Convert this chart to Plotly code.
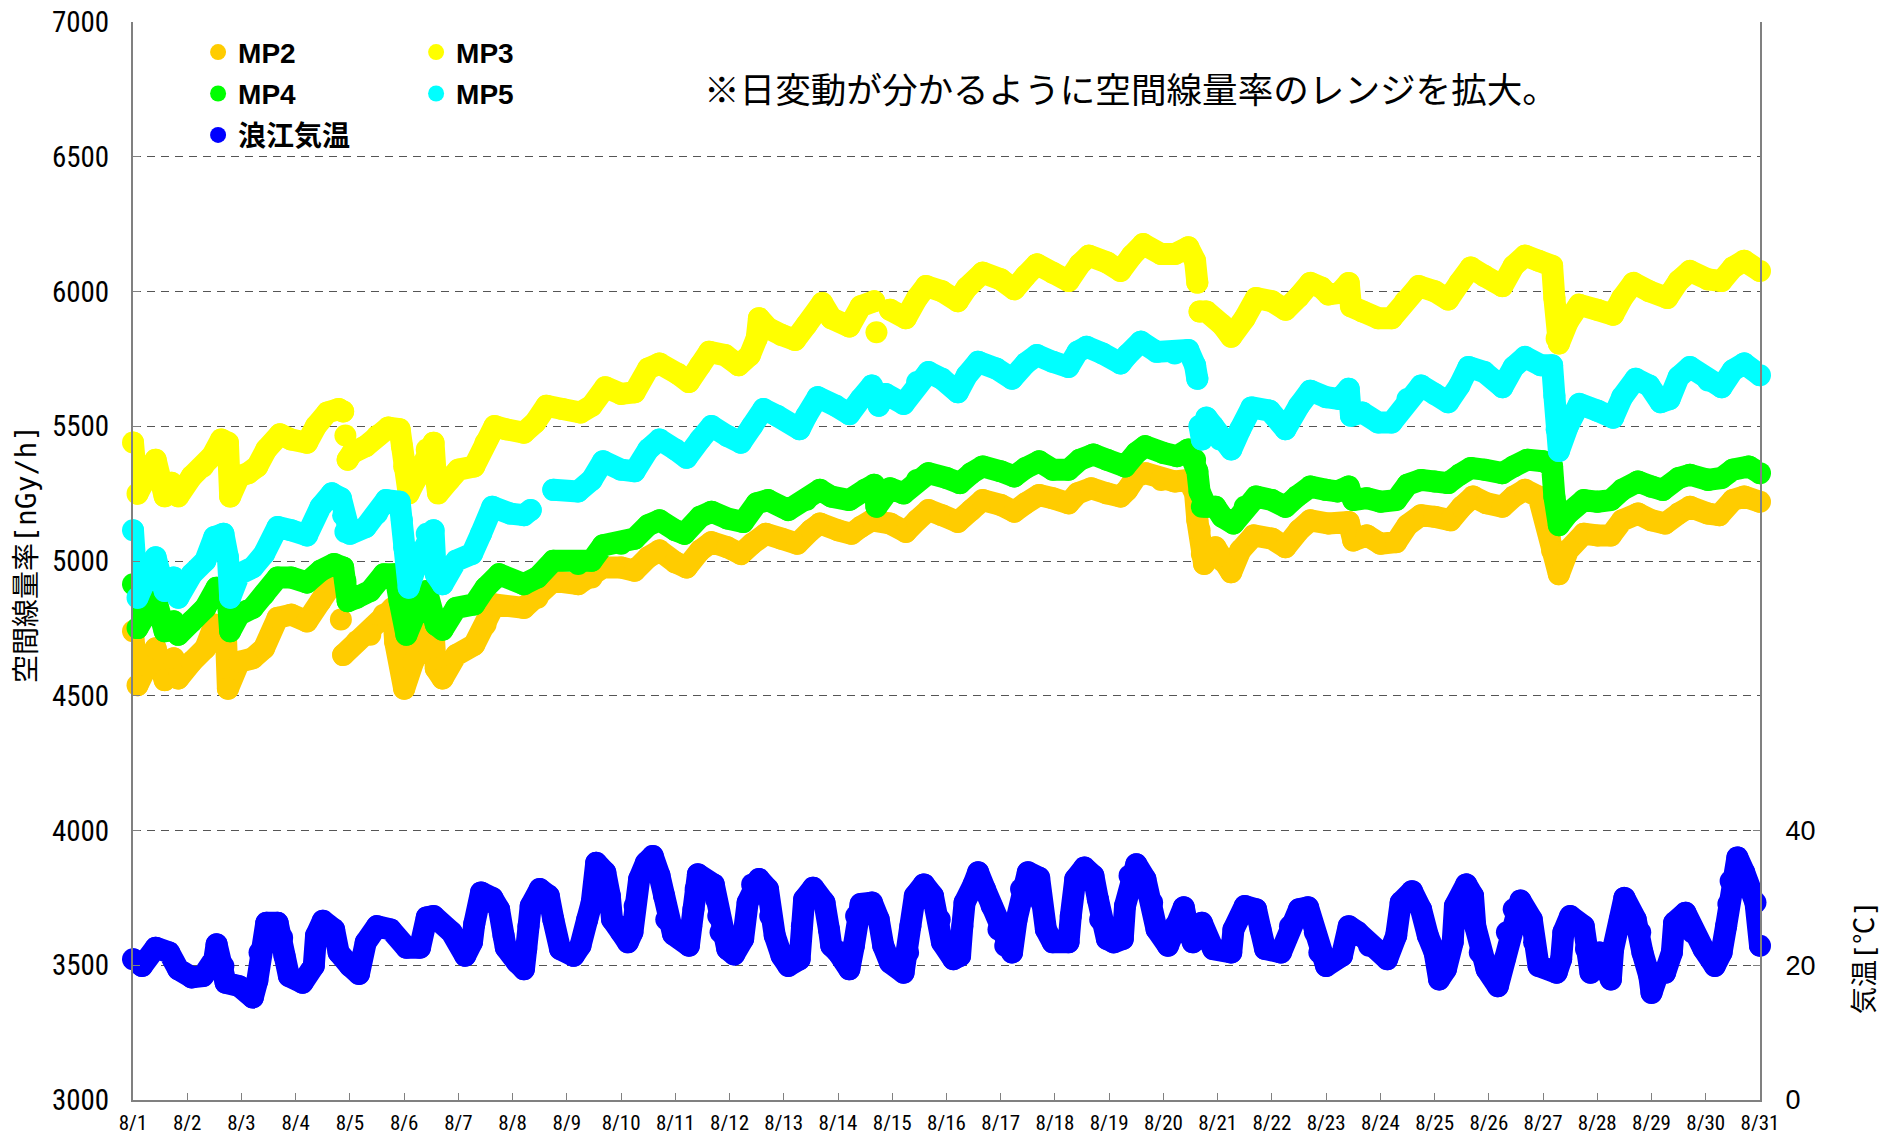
import plotly.graph_objects as go

# ---------------- data ----------------
day_ticks = list(range(1, 32))
day_labels = [f"8/{d}" for d in day_ticks]
left_ticks = [3000, 3500, 4000, 4500, 5000, 5500, 6000, 6500, 7000]
right_ticks = [0, 20, 40]

# hours since 8/1 00:00 ; None = gap in the record
mp2_h = [0, 2, 10, 14, 18, 20, 26, 32, 36, 41, 42, 47, 53, 58, 64, 70, 77, 83, 88, 88.5, 92, 92.5, 93, 99,
         105, 111, 115, 116, 120, 124, 129, 133, 134, 137, 143, 151, 156, 160, 173, 179, 186, 197, 203, 208,
         216, 222, 228, 233, 240, 245, 251, 256, 263, 269, 274, 280, 287, 294, 300, 304, 312, 318, 322, 327,
         335, 342, 347, 352, 358, 365, 371, 376, 384, 390, 395, 401, 407, 414, 418, 424, 431, 437, 440, 444,
         448, 455, 461, 467, 470, 471, 472, 473, 474, 479, 482, 486, 490, 496, 504, 510, 516, 521, 529, 538,
         540, 546, 552, 559, 564, 570, 576, 583, 588, 593, 599, 606, 611, 616, 622, 626, 627, 628, 631, 635,
         642, 648, 654, 659, 666, 672, 678, 684, 689, 697, 702, 708, 713, 720]
mp2_v = [4739, 4539, 4676, 4558, 4639, 4564, 4626, 4676, 4764, 4751, 4526, 4626, 4639, 4676, 4789, 4801, 4776,
         4851, 4914, None, 4783, None, 4651, 4701, 4726, 4801, 4826, 4701, 4526, 4626, 4739, 4739, 4601, 4564,
         4651, 4689, 4764, 4839, 4826, 4864, 4926, 4914, 4939, 4976, 4976, 4964, 5014, 5039, 4995, 4976, 5039,
         5070, 5051, 5026, 5064, 5101, 5083, 5064, 5114, 5139, 5114, 5101, 5126, 5151, 5139, 5108, 5151, 5189,
         5170, 5145, 5189, 5226, 5208, 5183, 5214, 5245, 5233, 5214, 5251, 5270, 5251, 5239, 5264, 5314, 5326,
         5301, 5295, 5301, 5251, 5151, 5114, 5026, 4989, 5051, 5001, 4958, 5039, 5095, 5083, 5051, 5114, 5151,
         5139, 5145, 5076, 5095, 5064, 5070, 5133, 5170, 5164, 5151, 5201, 5239, 5214, 5201, 5239, 5264, 5239,
         5133, 5095, 5039, 4951, 5039, 5101, 5095, 5095, 5151, 5176, 5151, 5139, 5176, 5201, 5176, 5170, 5226,
         5239, 5220]

mp3_h = [0, 2, 10, 14, 17, 20, 26, 31, 35, 39, 42, 43, 47, 51, 55, 59, 65, 70, 77, 81, 86, 91, 93, 93.5, 94,
         94.5, 95, 97, 103, 108, 113, 118, 119, 120, 122, 125, 130, 133, 134, 135, 140, 144, 151, 156, 160, 165,
         173, 178, 183, 190, 198, 203, 209, 216, 222, 228, 233, 241, 246, 251, 255, 262, 268, 273, 276, 277, 281,
         287, 293, 298, 304, 305, 309, 317, 322, 328, 328.5, 329, 329.5, 335, 342, 347, 351, 358, 365, 369, 376,
         384, 390, 395, 400, 407, 414, 419, 423, 431, 437, 442, 447, 455, 461, 467, 470, 471, 471.5, 472, 475,
         482, 486, 492, 497, 504, 510, 516, 521, 526, 529, 534, 538, 539, 544, 551, 557, 563, 569, 576, 582, 587,
         592, 598, 606, 611, 616, 622, 628, 629, 630, 631, 635, 640, 648, 655, 659, 664, 671, 679, 684, 689, 697,
         703, 708, 713, 720]
mp3_v = [5440, 5250, 5376, 5240, 5290, 5240, 5314, 5351, 5389, 5451, 5439, 5239, 5314, 5326, 5351, 5414, 5470,
         5451, 5439, 5501, 5551, 5564, 5555, None, 5466, None, 5376, 5401, 5426, 5464, 5495, 5489, 5426, 5351,
         5251, 5301, 5414, 5439, 5314, 5251, 5301, 5339, 5351, 5439, 5501, 5489, 5476, 5514, 5576, 5564, 5551,
         5576, 5645, 5620, 5626, 5714, 5733, 5695, 5664, 5726, 5776, 5764, 5726, 5764, 5826, 5901, 5864, 5839,
         5820, 5876, 5926, 5957, 5901, 5870, 5945, 5964, None, 5849, None, 5932, 5901, 5976, 6020, 6001, 5964,
         6014, 6070, 6045, 6008, 6058, 6101, 6070, 6039, 6101, 6133, 6108, 6076, 6133, 6176, 6139, 6139, 6164,
         6114, 6033, None, 5926, 5926, 5876, 5832, 5901, 5976, 5964, 5932, 5982, 6032, 6014, 5989, 5995, 6032,
         5945, 5926, 5901, 5901, 5964, 6020, 6001, 5970, 6032, 6089, 6058, 6020, 6095, 6133, 6114, 6095, 5976,
         5826, 5807, 5889, 5951, 5932, 5914, 5976, 6032, 6001, 5976, 6039, 6076, 6045, 6039, 6089, 6114, 6076]

mp4_h = [0, 2, 10, 14, 18, 20, 26, 32, 37, 42, 43, 47, 53, 58, 64, 70, 77, 83, 89, 93, 94, 95, 99, 105, 111,
         116, 118, 121, 126, 130, 134, 137, 143, 151, 156, 162, 173, 179, 186, 197, 203, 208, 216, 222, 228, 233,
         240, 244, 251, 256, 263, 270, 276, 281, 290, 298, 304, 309, 317, 324, 328, 329, 335, 341, 347, 352, 360,
         366, 371, 376, 384, 390, 395, 401, 407, 414, 419, 425, 431, 439, 444, 448, 456, 462, 467, 470, 471, 472,
         473, 475, 479, 482, 487, 492, 497, 504, 510, 515, 521, 528, 533, 538, 540, 546, 552, 559, 564, 570, 576,
         582, 587, 592, 598, 606, 611, 617, 624, 628, 629, 631, 635, 642, 648, 654, 659, 666, 672, 677, 684, 689,
         697, 703, 708, 715, 720]
mp4_v = [4914, 4751, 4864, 4739, 4776, 4726, 4776, 4826, 4901, 4851, 4739, 4801, 4826, 4876, 4939, 4939, 4920,
         4964, 4989, 4976, 4926, 4851, 4864, 4889, 4951, 4951, 4851, 4726, 4826, 4889, 4764, 4745, 4826, 4839,
         4901, 4951, 4914, 4939, 5001, 4989, 5001, 5058, 5064, 5083, 5133, 5151, 5114, 5101, 5164, 5183, 5158,
         5145, 5214, 5226, 5189, 5226, 5264, 5239, 5226, 5264, 5283, 5201, 5270, 5251, 5301, 5326, 5308, 5289,
         5326, 5351, 5333, 5314, 5345, 5370, 5339, 5339, 5376, 5395, 5376, 5351, 5401, 5426, 5401, 5389, 5414,
         5376, 5333, 5258, 5201, 5201, 5201, 5164, 5139, 5201, 5239, 5226, 5201, 5239, 5276, 5264, 5258, 5276,
         5226, 5233, 5220, 5226, 5283, 5301, 5295, 5289, 5320, 5345, 5339, 5326, 5351, 5376, 5370, 5351, 5239,
         5133, 5176, 5226, 5220, 5226, 5264, 5295, 5276, 5264, 5308, 5320, 5301, 5308, 5339, 5351, 5326]

mp5_h = [0, 2, 10, 14, 18, 20, 26, 32, 36, 40, 42, 43, 47, 53, 58, 64, 70, 77, 83, 88, 92, 93, 94, 96, 103,
         108, 112, 118, 119, 120, 122, 126, 130, 133, 134, 137, 143, 150, 154, 159, 167, 173, 176, 176.5, 186,
         197, 203, 208, 216, 222, 228, 233, 240, 245, 251, 256, 263, 269, 274, 279, 285, 295, 298, 303, 311, 317,
         322, 327, 330, 333, 341, 347, 352, 358, 365, 369, 374, 382, 389, 395, 400, 407, 414, 418, 422, 429, 437,
         440, 446, 453, 461, 467, 470, 471, 471.5, 472, 473, 475, 478, 481, 486, 490, 495, 503, 510, 516, 521,
         528, 534, 538, 539, 544, 551, 557, 564, 570, 576, 582, 587, 591, 598, 606, 611, 616, 623, 628, 629, 630,
         631, 635, 640, 648, 655, 659, 665, 671, 676, 680, 684, 689, 697, 703, 708, 713, 720]
mp5_v = [5114, 4864, 5014, 4889, 4939, 4864, 4951, 5001, 5089, 5101, 5014, 4864, 4951, 4976, 5026, 5126, 5114,
         5095, 5201, 5251, 5233, 5170, 5108, 5101, 5126, 5176, 5226, 5220, 5151, 5051, 4901, 5001, 5101, 5114,
         4951, 4914, 5001, 5026, 5101, 5201, 5176, 5170, 5189, None, 5264, 5258, 5301, 5370, 5339, 5333, 5414,
         5451, 5414, 5383, 5451, 5501, 5464, 5439, 5501, 5564, 5539, 5489, 5539, 5608, 5576, 5545, 5601, 5651,
         5576, 5620, 5583, 5664, 5701, 5676, 5626, 5689, 5739, 5714, 5676, 5733, 5764, 5739, 5720, 5776, 5795,
         5770, 5733, 5764, 5814, 5776, 5770, 5783, 5726, 5676, None, 5501, 5451, 5532, 5501, 5451, 5414, 5489,
         5570, 5558, 5489, 5576, 5632, 5608, 5601, 5639, 5539, 5551, 5514, 5514, 5601, 5651, 5620, 5589, 5651,
         5720, 5701, 5645, 5720, 5757, 5726, 5726, 5614, 5489, 5408, 5501, 5583, 5558, 5532, 5608, 5676, 5651,
         5589, 5601, 5683, 5720, 5670, 5645, 5708, 5733, 5689]

temp_h = [0, 4, 10, 16, 20, 26, 31, 36, 37, 40, 41, 47, 53, 55, 56, 59, 64, 66, 67, 69, 75, 80, 81, 84, 89, 91,
          96, 100, 103, 108, 114, 121, 127, 130, 133, 141, 147, 150, 151, 154, 159, 162, 164, 165, 170, 173, 174,
          175, 176, 180, 184, 186, 189, 195, 198, 201, 203, 205, 209, 211, 212, 216, 219, 221, 222, 224, 227, 230,
          233, 235, 236, 239, 246, 247, 248, 249, 250, 257, 258, 259, 260, 263, 266, 270, 272, 274, 277, 281, 282,
          284, 287, 290, 295, 296, 297, 301, 306, 308, 309, 312, 317, 319, 320, 322, 327, 330, 332, 335, 341, 343,
          344, 346, 350, 354, 357, 358, 363, 366, 367, 368, 372, 374, 377, 380, 383, 386, 389, 391, 393, 396, 401,
          402, 404, 407, 414, 415, 417, 421, 425, 427, 428, 431, 434, 438, 439, 441, 444, 448, 451, 453, 458, 461,
          465, 467, 469, 473, 478, 486, 487, 492, 497, 499, 501, 508, 512, 516, 520, 523, 525, 528, 535, 538, 542,
          547, 555, 559, 561, 566, 570, 573, 576, 578, 581, 584, 585, 590, 593, 594, 596, 599, 604, 607, 608, 611,
          614, 619, 620, 622, 630, 632, 633, 636, 642, 643, 645, 649, 654, 655, 658, 660, 665, 667, 668, 671, 672,
          675, 678, 681, 682, 687, 690, 695, 700, 703, 705, 706, 707, 710, 713, 718, 720]
temp_v = [20.9, 19.9, 22.6, 21.9, 19.4, 18.2, 18.4, 20.9, 23.1, 19.9, 17.4, 16.9, 15.2, 17.7, 21.9, 26.3, 26.3,
          24.1, 21.4, 18.4, 17.4, 19.9, 24.4, 26.6, 25.3, 21.9, 19.9, 18.7, 23.4, 25.8, 25.3, 22.6, 22.6, 27.1,
          27.3, 24.9, 21.4, 23.4, 26.1, 30.8, 30.0, 28.3, 24.4, 22.6, 20.4, 19.4, 22.4, 25.8, 28.8, 31.3, 30.3,
          26.8, 22.4, 21.4, 22.9, 26.8, 29.3, 35.2, 33.8, 30.3, 26.8, 24.9, 23.4, 24.9, 28.8, 32.8, 35.2, 36.2,
          33.3, 30.3, 26.8, 24.6, 22.9, 25.8, 28.3, 31.3, 33.5, 32.0, 29.8, 27.3, 24.9, 22.4, 21.6, 23.9, 29.3,
          32.0, 32.8, 31.3, 27.3, 24.4, 21.4, 19.9, 20.9, 25.8, 29.8, 31.5, 29.3, 25.3, 22.9, 21.9, 19.4, 22.9,
          27.3, 29.1, 29.3, 26.8, 22.9, 20.4, 18.9, 21.9, 25.8, 30.3, 32.0, 30.3, 26.8, 23.4, 20.9, 21.4, 25.8,
          29.3, 32.0, 33.8, 31.3, 28.8, 25.3, 22.9, 21.9, 26.8, 31.3, 33.8, 33.0, 29.3, 25.3, 23.4, 23.4, 27.3,
          32.8, 34.5, 33.3, 29.8, 26.8, 23.9, 23.4, 23.9, 28.8, 33.3, 35.0, 32.8, 29.3, 25.3, 22.9, 25.8, 28.6,
          25.3, 23.4, 26.3, 22.4, 21.9, 25.3, 28.8, 28.3, 25.3, 22.4, 21.9, 25.8, 28.3, 28.6, 24.9, 21.9, 19.9,
          21.4, 25.8, 24.9, 22.9, 20.9, 24.4, 29.3, 31.0, 28.3, 24.4, 21.9, 17.9, 19.4, 23.4, 28.8, 32.0, 30.3,
          25.8, 21.9, 19.4, 16.9, 20.9, 24.9, 28.3, 29.6, 26.8, 23.4, 19.9, 18.9, 20.9, 24.9, 27.3, 25.8, 22.4,
          18.9, 21.9, 17.9, 22.4, 26.8, 30.0, 26.8, 24.9, 21.9, 18.4, 15.9, 18.9, 18.9, 21.9, 26.3, 27.8, 24.9,
          22.4, 19.9, 21.9, 25.8, 29.1, 32.5, 36.0, 33.8, 29.3, 22.9]

series = [
    ("MP2", mp2_h, mp2_v, "#FFCC00", "y", "legend"),
    ("MP3", mp3_h, mp3_v, "#FFFF00", "y", "legend2"),
    ("MP4", mp4_h, mp4_v, "#00FF00", "y", "legend"),
    ("MP5", mp5_h, mp5_v, "#00FFFF", "y", "legend2"),
    ("浪江気温", temp_h, temp_v, "#0000FF", "y2", "legend"),
]

NARROW = "Liberation Sans Narrow, Arial Narrow, Roboto Condensed, Liberation Sans, sans-serif"
JP = "Noto Sans CJK JP, sans-serif"
TITLE_FONT = "DejaVu Sans Mono, Noto Sans CJK JP, sans-serif"
LEG_FONT = dict(family="Liberation Sans, Noto Sans CJK JP, sans-serif", size=28, color="black", weight="bold")

fig = go.Figure()
for name, hrs, vals, color, yax, leg in series:
    fig.add_trace(go.Scatter(
        x=[1 + h / 24 for h in hrs], y=vals, yaxis=yax, mode="lines+markers",
        line=dict(color=color, width=22), marker=dict(color=color, size=22),
        connectgaps=False, cliponaxis=False, showlegend=False, hoverinfo="skip"))
for name, hrs, vals, color, yax, leg in series:
    fig.add_trace(go.Scatter(
        x=[None], y=[None], yaxis=yax, mode="markers", name=name, legend=leg,
        legendgroup=name, marker=dict(color=color, size=20), showlegend=True))

fig.update_layout(
    width=1899, height=1140,
    margin=dict(l=133, r=139, t=22, b=40, autoexpand=False),
    plot_bgcolor="white", paper_bgcolor="white",
    xaxis=dict(range=[1, 31], tickmode="array", tickvals=day_ticks, ticktext=day_labels,
               ticks="inside", ticklen=7, tickcolor="#808080", showline=True, linecolor="#808080",
               linewidth=2, showgrid=False, zeroline=False, automargin=False,
               tickfont=dict(family=NARROW, size=21, color="black"), ticklabelstandoff=3),
    yaxis=dict(range=[3000, 7000], tickmode="array", tickvals=left_ticks, ticks="inside", ticklen=7,
               tickcolor="#808080", showline=True, linecolor="#808080", linewidth=2, showgrid=True,
               gridcolor="#555555", gridwidth=1, griddash="8px,6px", zeroline=False, automargin=False,
               tickfont=dict(family=NARROW, size=29, color="black"), ticklabelstandoff=16),
    yaxis2=dict(range=[0, 160], overlaying="y", side="right", tickmode="array", tickvals=right_ticks,
                ticks="inside", ticklen=7, tickcolor="#808080", showline=True, linecolor="#808080",
                linewidth=2, showgrid=False, zeroline=False, automargin=False,
                tickfont=dict(family="Liberation Sans, Arial, sans-serif", size=27, color="black"),
                ticklabelstandoff=18),
    legend=dict(x=0.040, y=0.995, xanchor="left", yanchor="top", bgcolor="rgba(0,0,0,0)",
                font=LEG_FONT, tracegroupgap=2, itemwidth=30),
    legend2=dict(x=0.174, y=0.995, xanchor="left", yanchor="top", bgcolor="rgba(0,0,0,0)",
                 font=LEG_FONT, tracegroupgap=2, itemwidth=30),
    annotations=[
        dict(text="※日変動が分かるように空間線量率のレンジを拡大。", xref="paper", yref="paper",
             x=0.3497, y=0.9397, xanchor="left", yanchor="middle", showarrow=False,
             font=dict(family=JP, size=35.6, color="black")),
        dict(text="空間線量率[nGy/h]", xref="paper", yref="paper", x=-0.0652, y=0.5065,
             xanchor="center", yanchor="middle", textangle=-90, showarrow=False,
             font=dict(family=TITLE_FONT, size=28, color="black")),
        dict(text="気温[℃]", xref="paper", yref="paper", x=1.0645, y=0.1327,
             xanchor="center", yanchor="middle", textangle=-90, showarrow=False,
             font=dict(family=TITLE_FONT, size=27, color="black")),
    ],
)

fig.write_html(
    "out.html", config={"displayModeBar": False},
    post_script=("document.body.style.margin='0';document.body.style.overflow='hidden';"
                 "var s=document.createElement('style');"
                 "s.textContent='.scatterlayer path.js-line{stroke-linejoin:round !important;"
                 "stroke-linecap:round !important;}';document.head.appendChild(s);"))
